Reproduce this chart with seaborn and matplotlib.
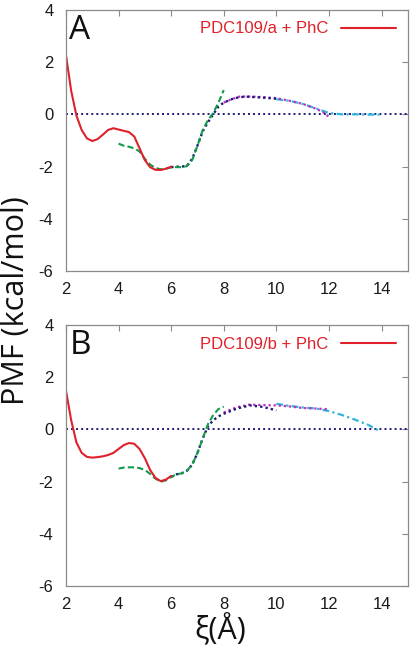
import matplotlib
matplotlib.use("Agg")
import matplotlib.pyplot as plt
import seaborn as sns
import pandas as pd

# ---- Data ----
# panel A
red_a_x = [2.0, 2.2, 2.4, 2.6, 2.8, 3.0, 3.2, 3.4, 3.6, 3.8, 4.0, 4.2, 4.4, 4.6, 4.8, 5.0, 5.2, 5.4, 5.6, 5.8, 6.0]
red_a_y = [2.28, 0.9, -0.05, -0.6, -0.92, -1.02, -0.95, -0.78, -0.6, -0.53, -0.58, -0.63, -0.68, -0.85, -1.3, -1.75, -2.02, -2.12, -2.13, -2.08, -2.0]
green_a_x = [4.0, 4.2, 4.4, 4.6, 4.8, 5.0, 5.2, 5.4, 5.6, 5.8, 6.0, 6.2, 6.4, 6.6, 6.8, 7.0, 7.2, 7.4, 7.6, 7.8, 8.0]
green_a_y = [-1.12, -1.2, -1.24, -1.3, -1.42, -1.7, -1.92, -2.05, -2.1, -2.08, -2.03, -2.02, -2.02, -1.98, -1.75, -1.2, -0.6, -0.22, 0.05, 0.45, 0.93]
navy_a_x = [6.0, 6.2, 6.4, 6.6, 6.8, 7.0, 7.2, 7.4, 7.6, 7.8, 8.0, 8.4, 8.8, 9.2, 9.6, 10.0]
navy_a_y = [-2.02, -2.0, -2.0, -1.97, -1.7, -1.2, -0.65, -0.3, 0.0, 0.3, 0.45, 0.62, 0.68, 0.66, 0.63, 0.6]
mag_a_x = [8.0, 8.3, 8.6, 9.0, 9.5, 10.0, 10.5, 11.0, 11.5, 11.8, 12.0]
mag_a_y = [0.45, 0.58, 0.68, 0.68, 0.66, 0.62, 0.52, 0.4, 0.22, 0.07, -0.1]
cyan_a_x = [10.0, 10.5, 11.0, 11.5, 12.0, 12.5, 13.0, 13.5, 14.0]
cyan_a_y = [0.58, 0.52, 0.4, 0.23, 0.05, 0.0, 0.0, -0.01, -0.01]

# panel B
red_b_x = [2.0, 2.2, 2.4, 2.6, 2.8, 3.0, 3.2, 3.4, 3.6, 3.8, 4.0, 4.2, 4.4, 4.6, 4.8, 5.0, 5.2, 5.4, 5.6, 5.8, 6.0]
red_b_y = [1.5, 0.35, -0.5, -0.9, -1.05, -1.08, -1.06, -1.03, -0.98, -0.9, -0.75, -0.6, -0.52, -0.55, -0.75, -1.1, -1.55, -1.85, -1.98, -1.92, -1.78]
green_b_x = [4.0, 4.2, 4.4, 4.6, 4.8, 5.0, 5.2, 5.4, 5.6, 5.8, 6.0, 6.2, 6.4, 6.6, 6.8, 7.0, 7.2, 7.4, 7.6, 7.8, 8.0]
green_b_y = [-1.5, -1.46, -1.45, -1.45, -1.48, -1.55, -1.7, -1.88, -2.0, -1.95, -1.82, -1.72, -1.68, -1.58, -1.35, -0.9, -0.35, 0.2, 0.55, 0.78, 0.87]
navy_b_x = [6.0, 6.2, 6.4, 6.6, 6.8, 7.0, 7.2, 7.4, 7.6, 7.8, 8.0, 8.5, 9.0, 9.5, 10.0]
navy_b_y = [-1.82, -1.72, -1.68, -1.58, -1.35, -0.9, -0.35, 0.12, 0.35, 0.5, 0.6, 0.8, 0.92, 0.86, 0.73]
mag_b_x = [8.0, 8.5, 9.0, 9.5, 10.0, 10.5, 11.0, 11.5, 12.0]
mag_b_y = [0.65, 0.85, 0.95, 0.93, 0.92, 0.88, 0.82, 0.8, 0.77]
cyan_b_x = [10.0, 10.5, 11.0, 11.5, 12.0, 12.5, 13.0, 13.5, 13.9]
cyan_b_y = [0.98, 0.9, 0.84, 0.8, 0.7, 0.55, 0.37, 0.17, -0.05]

zero_x = [2, 15]
zero_y = [0, 0]

panels = [
    ("A", "PDC109/a + PhC", (red_a_x, red_a_y), (green_a_x, green_a_y), (navy_a_x, navy_a_y), (mag_a_x, mag_a_y), (cyan_a_x, cyan_a_y)),
    ("B", "PDC109/b + PhC", (red_b_x, red_b_y), (green_b_x, green_b_y), (navy_b_x, navy_b_y), (mag_b_x, mag_b_y), (cyan_b_x, cyan_b_y)),
]

RED = "#e0202a"
GREEN = "#139a4a"
NAVY = "#1c1c7a"
MAGENTA = "#c030c0"
CYAN = "#30b4dc"
GRAY = "#8a8a8a"

# ---- Plotting ----
sns.set_style("white")
plt.rcParams["font.family"] = ["Liberation Sans", "DejaVu Sans"]

fig = plt.figure(figsize=(4.12, 6.55), dpi=100)
ax_a = fig.add_axes([0.16, 0.586, 0.83, 0.399])
ax_b = fig.add_axes([0.16, 0.105, 0.83, 0.399])

for ax, (letter, label, red, green, navy, mag, cyan) in zip([ax_a, ax_b], panels):
    sns.lineplot(x=zero_x, y=zero_y, ax=ax, color=NAVY, linewidth=1.4, linestyle=(0, (1, 1.6)))
    sns.lineplot(x=cyan[0], y=cyan[1], ax=ax, color=CYAN, linewidth=1.6, linestyle=(0, (3, 1.5, 1, 1.5)))
    sns.lineplot(x=mag[0], y=mag[1], ax=ax, color=MAGENTA, linewidth=1.6, linestyle=(0, (1, 1.3)))
    sns.lineplot(x=navy[0], y=navy[1], ax=ax, color=NAVY, linewidth=1.7, linestyle=(0, (1, 1.3)))
    sns.lineplot(x=green[0], y=green[1], ax=ax, color=GREEN, linewidth=1.5, linestyle=(0, (3, 1.5)))
    sns.lineplot(x=red[0], y=red[1], ax=ax, color=RED, linewidth=1.5, label=label)

    ax.set_xlim(2, 15)
    ax.set_ylim(-6, 4)
    ax.set_xticks([2, 4, 6, 8, 10, 12, 14])
    ax.set_yticks([-6, -4, -2, 0, 2, 4])
    ax.set_yticklabels(["-6", "-4", "-2", "0", "2", "4"])
    ax.tick_params(direction="in", length=4, width=0.8, color=GRAY, labelsize=12,
                   labelcolor="#1a1a1a", top=True, right=True)
    ax.tick_params(axis="y", pad=9)
    ax.tick_params(axis="x", pad=8)
    for s in ax.spines.values():
        s.set_color(GRAY)
        s.set_linewidth(0.9)
    ax.set_xlabel("")
    ax.set_ylabel("")

    leg = ax.legend(loc="upper right", frameon=False, markerfirst=False, fontsize=12,
                    handlelength=3.3, handletextpad=0.8, borderaxespad=0.3, labelcolor=RED)

    ax.text(0.01, 0.985, letter, transform=ax.transAxes, ha="left", va="top",
            fontsize=24, family=["Open Sans", "DejaVu Sans"], color="#111111")

fig.text(0.038, 1 - 301 / 655, "PMF (kcal/mol)", rotation=90, ha="center", va="center",
         fontsize=22, family=["Open Sans", "DejaVu Sans"], color="#111111")
fig.text(0.535, 1 - 630 / 655, "ξ(Å)", ha="center", va="center",
         fontsize=22, family=["Open Sans", "DejaVu Sans"], color="#111111")

fig.savefig("out.png", dpi=100)
plt.close(fig)
